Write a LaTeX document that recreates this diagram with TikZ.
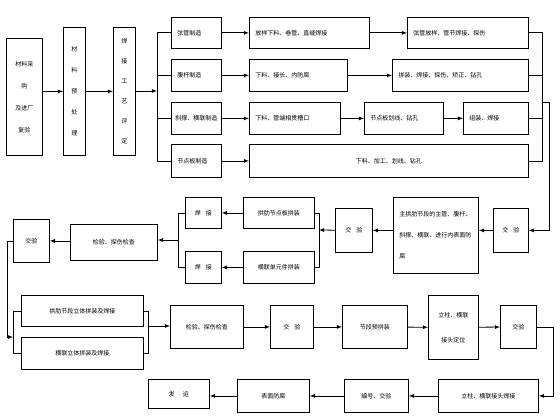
\documentclass[tikz,border=0pt]{standalone}
\usepackage{fontspec}
\setmainfont{Noto Sans CJK SC}
\usetikzlibrary{arrows}

\begin{document}
\begin{tikzpicture}[x=1pt,y=-1pt,line width=0.8pt,>=latex,
  box/.style={draw,inner sep=0pt,anchor=north west,align=center,
    font=\fontsize{6}{7}\selectfont},
  lbox/.style={box,align=left,inner xsep=6pt}]
\useasboundingbox (0,0) rectangle (560,420);
% material and process
\node[box,minimum width=36,minimum height=117,font=\fontsize{6}{22}\selectfont] (m1) at (6,38) {材料采\\购\\及进厂\\复验};
\node[box,minimum width=22,minimum height=128,font=\fontsize{6}{21}\selectfont] (m2) at (63,27) {材\\料\\预\\处\\理};
\node[box,minimum width=22,minimum height=128,font=\fontsize{6}{20}\selectfont] (m3) at (113,27) {焊\\接\\工\\艺\\评\\定};
% parts
\node[lbox,text width=38,minimum height=31] (xg) at (171,17) {弦管制造};
\node[lbox,text width=38,minimum height=32] (fg) at (171,59) {腹杆制造};
\node[box,minimum width=50,minimum height=32] (xc) at (171,102) {斜撑、横联制造};
\node[lbox,text width=38,minimum height=33] (jd) at (171,144) {节点板制造};
\node[lbox,text width=108,minimum height=31] (a1) at (249,17) {放样下料、卷管、直缝焊接};
\node[lbox,text width=86,minimum height=32] (a2) at (249,59) {下料、接长、内防腐};
\node[lbox,text width=79,minimum height=32] (a3) at (249,102) {下料、管端相贯槽口};
\node[box,minimum width=279,minimum height=33] (a4) at (249,144) {下料、加工、划线、钻孔};
\node[lbox,text width=109,minimum height=31] (b1) at (407,17) {弦管放样、管节焊接、探伤};
\node[lbox,text width=124,minimum height=32] (b2) at (392,59) {拼装、焊接、探伤、矫正、钻孔};
\node[lbox,text width=67,minimum height=32] (b3) at (364,102) {节点板划线、钻孔};
\node[lbox,text width=53,minimum height=32] (b4) at (463,102) {组装、焊接};
% middle row
\node[box,minimum width=35,minimum height=44] (c1) at (493,208) {交\hspace{5pt}验};
\node[lbox,text width=73,minimum height=76,font=\fontsize{6}{21}\selectfont] (c2) at (393,197) {主拱肋节段的主管、腹杆、\\斜撑、横联、进行内表面防\\腐};
\node[box,minimum width=37,minimum height=44] (c3) at (335,208) {交\hspace{5pt}验};
\node[box,minimum width=71,minimum height=31] (d1) at (243,197) {拱肋节点板拼装};
\node[box,minimum width=71,minimum height=32] (d2) at (243,251) {横联单元件拼装};
\node[box,minimum width=36,minimum height=31] (e1) at (185,197) {焊\hspace{5pt}接};
\node[box,minimum width=36,minimum height=32] (e2) at (185,251) {焊\hspace{5pt}接};
\node[box,minimum width=87,minimum height=36] (f1) at (70,224) {检验、探伤检查};
\node[box,minimum width=36,minimum height=43] (g1) at (13,219) {交验};
% assembly
\node[box,minimum width=122,minimum height=31] (h1) at (21,295) {拱肋节段立体拼装及焊接};
\node[box,minimum width=122,minimum height=32] (h2) at (21,337) {横联立体拼装及焊接};
\node[box,minimum width=73,minimum height=43] (i1) at (170,305) {检验、探伤检查};
\node[box,minimum width=43,minimum height=43] (i2) at (270,305) {交\hspace{5pt}验};
\node[box,minimum width=65,minimum height=43] (i3) at (342,305) {节段预拼装};
\node[box,minimum width=50,minimum height=64,font=\fontsize{6}{25}\selectfont] (i4) at (428,295) {立柱、横联\\接头定位};
\node[box,minimum width=36,minimum height=43] (i5) at (500,305) {交验};
\node[box,minimum width=100,minimum height=33] (k1) at (438,379) {立柱、横联接头焊接};
\node[box,minimum width=64,minimum height=33] (k2) at (344,379) {编号、交验};
\node[box,minimum width=72,minimum height=33] (k3) at (237,379) {表面防腐};
\node[box,minimum width=61,minimum height=29] (k4) at (148,379) {发\hspace{8pt}运};
% joints
\coordinate (s1) at (157,91);
\coordinate (r1) at (542,102);
\coordinate (s2) at (319,230);
\coordinate (s3) at (178,240);
\coordinate (s4) at (13,337);
\coordinate (s5) at (148,326);
% connectors
\draw[->] (m1.east |- m2.center) -- (m2.west);
\draw[->] (m2) -- (m3);
\draw[->] (m3.east |- s1) -- (s1);
\draw (xg.west) -- ++(-14,0) |- (jd.west);
\draw (fg.west) -- ++(-14,0) (xc.west) -- ++(-14,0);
\draw[->] (xg) -- (a1);
\draw[->] (a1) -- (b1);
\draw[->] (fg) -- (a2);
\draw[->] (a2) -- (b2);
\draw[->] (xc) -- (a3);
\draw[->] (a3) -- (b3);
\draw[->] (b3) -- (b4);
\draw[->] (jd) -- (a4);
\draw (b1.east) -- ++(14,0) |- (a4.east);
\draw (b2.east) -- ++(14,0) (b4.east) -- ++(14,0);
\draw[->] (r1) -- ++(7,0) |- (c1.east);
\draw[->] (c1) -- (c1 -| c2.east);
\draw[->] (c2.west |- c3) -- (c3);
\draw[->] (c3) -- (s2);
\draw (d1.east) -- ++(5,0) |- (d2.east);
\draw[->] (d1) -- (e1);
\draw[->] (d2) -- (e2);
\draw (e1.west) -- ++(-7,0) |- (e2.west);
\draw[->] (s3) -- (f1.east |- s3);
\draw[->] (f1.west |- g1) -- (g1);
\draw[->] (g1.west) -- ++(-6,0) |- (s4);
\draw (h1.west) -- ++(-8,0) |- (h2.west);
\draw (h1.east) -- ++(5,0) |- (h2.east);
\draw[->] (s5) -- (i1.west |- s5);
\draw[->] (i1) -- (i2);
\draw[->] (i2) -- (i3);
\draw[->] (i3) -- (i4);
\draw[->] (i4) -- (i5);
\draw[->] (i5.east) -- ++(17,0) |- (k1.east);
\draw[->] (k1) -- (k1 -| k2.east);
\draw[->] (k2) -- (k2 -| k3.east);
\draw[->] (k3) -- (k3 -| k4.east);
\end{tikzpicture}
\end{document}
